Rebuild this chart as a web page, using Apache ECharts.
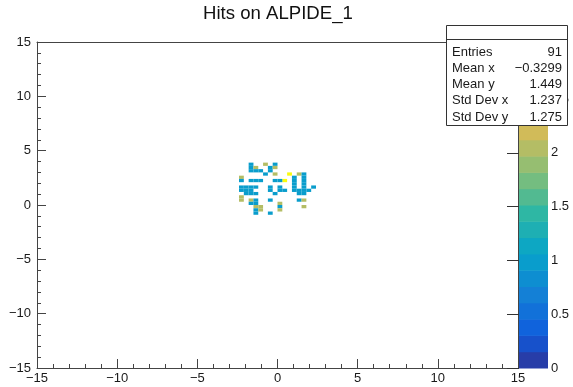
<!DOCTYPE html>
<html><head><meta charset="utf-8">
<script src="https://cdn.jsdelivr.net/npm/echarts@6/dist/echarts.min.js"></script>
<style>html,body{margin:0;padding:0;background:#fff}#c{width:573px;height:387px}</style>
</head><body><div id="c"></div>
<script>
const chartTitle = 'Hits on ALPIDE_1';
const BIN = 0.3;
// bin lower edges (x, y) and bin contents
const cellX = [
 -1.8,-0.9,-0.3,
 -1.8,-1.5,-0.6,-0.3,
 -1.8,-1.5,-1.2,-0.6,
 0.6,1.2,-0.3,-0.9,1.5,
 -2.4,0.9,1.5,
 0.3,-2.4,-1.8,-1.5,-1.2,-0.3,0,0.9,1.5,
 0.9,1.5,
 -2.4,-2.1,-1.8,-1.5,-0.6,0,0.9,1.5,2.1,
 -2.4,-2.1,-1.8,-0.6,0,0.3,0.9,1.2,1.5,1.8,
 -2.1,-1.8,-1.5,-0.3,1.2,1.5,
 -2.4,
 -2.4,-1.8,-1.5,-0.6,1.2,1.5,
 -1.8,-1.5,0,
 -1.5,-1.2,0,1.5,
 -1.5,-1.2,0,
 -1.5,-0.6
];
const cellY = [
 3.6,3.6,3.6,
 3.3,3.3,3.3,3.3,
 3.0,3.0,3.0,3.0,
 2.7,2.7,2.7,2.7,2.7,
 2.4,2.4,2.4,
 2.1,2.1,2.1,2.1,2.1,2.1,2.1,2.1,2.1,
 1.8,1.8,
 1.5,1.5,1.5,1.5,1.5,1.5,1.5,1.5,1.5,
 1.2,1.2,1.2,1.2,1.2,1.2,1.2,1.2,1.2,1.2,
 0.9,0.9,0.9,0.9,0.9,0.9,
 0.6,
 0.3,0.3,0.3,0.3,0.3,0.3,
 0,0,0,
 -0.3,-0.3,-0.3,-0.3,
 -0.6,-0.6,-0.6,
 -0.9,-0.9
];
const cellZ = [
 1,2,1,
 1,2,1,2,
 1,1,1,1,
 3,2,2,1,1,
 2,1,1,
 3,1,1,1,1,1,1,1,1,
 1,1,
 1,1,1,1,1,1,1,1,1,
 1,1,1,1,1,1,1,1,1,1,
 1,1,1,1,1,1,
 2,
 2,2,1,1,1,2,
 1,1,2,
 2,2,1,2,
 1,2,2,
 1,1
];
const zMax = 3.03;
const nLevels = 20;
const statsLabels = ['Entries','Mean x','Mean y','Std Dev x','Std Dev y'];
const statsValues = ['91','\u22120.3299','1.449','1.237','1.275'];

// ROOT kBird palette
const birdStops = [0,0.125,0.25,0.375,0.5,0.625,0.75,0.875,1];
const birdR = [0.2082,0.0592,0.0780,0.0232,0.1802,0.5301,0.8186,0.9956,0.9764];
const birdG = [0.1664,0.3599,0.5041,0.6419,0.7178,0.7492,0.7328,0.7862,0.9832];
const birdB = [0.5293,0.8684,0.8385,0.7914,0.6425,0.4662,0.3499,0.1968,0.0539];
function bird(t){
  let i=0; while(i<birdStops.length-2 && t>birdStops[i+1]) i++;
  const f=(t-birdStops[i])/(birdStops[i+1]-birdStops[i]);
  const c=a=>Math.round(255*(a[i]+(a[i+1]-a[i])*f));
  return 'rgb('+c(birdR)+','+c(birdG)+','+c(birdB)+')';
}
const dz = zMax/nLevels;
const pieces = [];
const bands = [];
for(let i=0;i<nLevels;i++){
  const idx = Math.floor((i+0.99)*255/nLevels);
  pieces.push({gte:i*dz, lt:(i+1)*dz + (i===nLevels-1?1:0), color: bird(Math.min(idx,254)/254)});
  bands.push([i*dz,(i+1)*dz,(i+0.5)*dz]);
}
const cells = cellX.map((x,i)=>[x,cellY[i],cellZ[i]]);

const FONT = 'Liberation Sans, Arial, Helvetica, sans-serif';
const minus = v => (v<0? '\u2212'+Math.abs(v) : String(v));
const lineCol = '#444';
const txtCol = '#1a1a1a';

const chart = echarts.init(document.getElementById('c'), null, {renderer:'canvas'});
const statsChildren = [
  {type:'rect', zlevel:1, z:100, shape:{x:446.5,y:25.5,width:121,height:100}, style:{fill:'#fff',stroke:'#333',lineWidth:1}},
  {type:'line', zlevel:1, z:101, shape:{x1:446.5,y1:39.5,x2:567.5,y2:39.5}, style:{stroke:'#333',lineWidth:1}}
];
statsLabels.forEach((s,i)=>{
  const y = 52 + i*16.25;
  statsChildren.push({type:'text', zlevel:1, z:102, x:452, y:y, style:{text:s, font:'13px '+FONT, fill:txtCol, textAlign:'left', textVerticalAlign:'middle'}});
  statsChildren.push({type:'text', zlevel:1, z:102, x:562, y:y, style:{text:statsValues[i], font:'13px '+FONT, fill:txtCol, textAlign:'right', textVerticalAlign:'middle'}});
});

const mainAxisCommon = {
  type:'value', min:-15, max:15, interval:5, gridIndex:0,
  axisLine:{show:true, onZero:false, lineStyle:{color:lineCol,width:1}},
  axisTick:{show:true, inside:true, length:9, lineStyle:{color:lineCol}},
  minorTick:{show:true, splitNumber:5, length:4, lineStyle:{color:lineCol}},
  splitLine:{show:false}, minorSplitLine:{show:false},
  axisLabel:{fontSize:13, color:txtCol, fontFamily:FONT, formatter:minus}
};
const frameAxis = (pos)=>({
  type:'value', min:-15, max:15, gridIndex:0, position:pos,
  axisLine:{show:true, onZero:false, lineStyle:{color:lineCol,width:1}},
  axisTick:{show:false}, axisLabel:{show:false}, splitLine:{show:false}
});

chart.setOption({
  animation:false,
  backgroundColor:'#fff',
  title:{text:chartTitle, left:203, top:4, padding:0,
    textStyle:{fontSize:18.6, fontWeight:'normal', fontFamily:FONT, color:'#111'}},
  grid:[
    {left:37, top:42, width:481, height:326},
    {left:519, top:42, width:29, height:326}
  ],
  xAxis:[
    Object.assign({}, mainAxisCommon, {position:'bottom', axisLabel:Object.assign({}, mainAxisCommon.axisLabel,{margin:4})}),
    frameAxis('top'),
    {type:'value', gridIndex:1, min:0, max:1, show:false}
  ],
  yAxis:[
    Object.assign({}, mainAxisCommon, {position:'left', axisLabel:Object.assign({}, mainAxisCommon.axisLabel,{margin:6})}),
    frameAxis('right'),
    {type:'value', gridIndex:1, min:0, max:zMax, interval:0.5, position:'right',
      axisLine:{show:false}, axisTick:{show:true, inside:true, length:12, lineStyle:{color:'#333'}},
      splitLine:{show:false},
      axisLabel:{fontSize:13, color:txtCol, fontFamily:FONT, margin:3, showMaxLabel:false}}
  ],
  visualMap:[{type:'piecewise', show:false, dimension:2, seriesIndex:[0,1], pieces:pieces}],
  series:[
    {type:'custom', xAxisIndex:0, yAxisIndex:0, data:cells, encode:{x:0,y:1}, silent:true, clip:true,
      renderItem:(params, api)=>{
        const x=api.value(0), y=api.value(1);
        const a=api.coord([x, y+BIN]); const b=api.coord([x+BIN, y]);
        return {type:'rect', shape:{x:a[0], y:a[1], width:b[0]-a[0], height:b[1]-a[1]},
          style:{fill:api.visual('color')}};
      }},
    {type:'custom', xAxisIndex:2, yAxisIndex:2, data:bands, encode:{y:[0,1]}, silent:true, z:1,
      renderItem:(params, api)=>{
        const a=api.coord([0, api.value(1)]); const b=api.coord([1, api.value(0)]);
        return {type:'rect', shape:{x:a[0], y:a[1], width:b[0]-a[0], height:b[1]-a[1]+0.5},
          style:{fill:api.visual('color')}};
      }}
  ],
  graphic:[{type:'group', zlevel:1, z:100, children:statsChildren}]
});
</script></body></html>
